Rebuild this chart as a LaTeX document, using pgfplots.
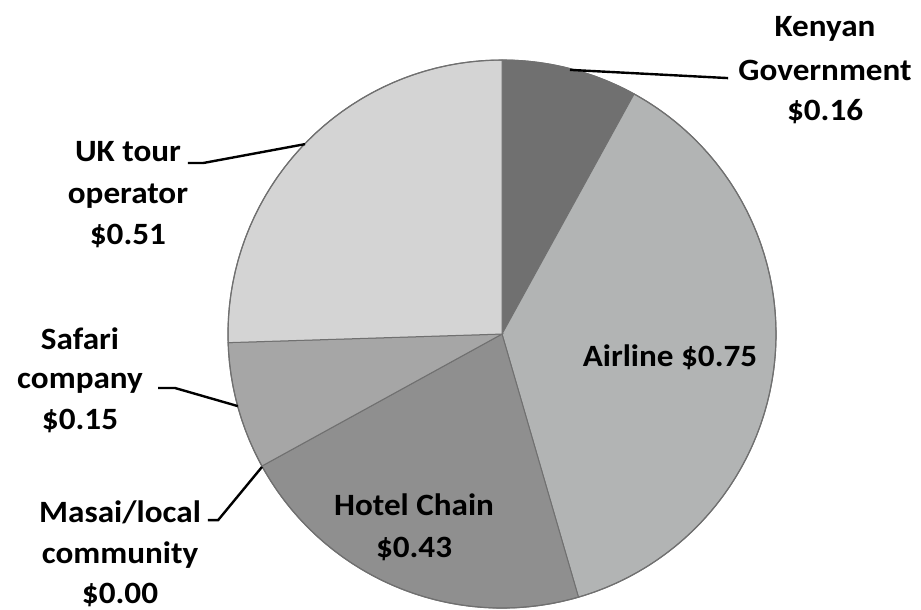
\documentclass[border=0pt]{standalone}
\usepackage{pgfplots}
\pgfplotsset{compat=1.18}
\usepackage{fontspec}
\setmainfont{Carlito}
\newfontfamily\lblfont{Carlito Bold}[FakeStretch=1.07]
\definecolor{cKen}{HTML}{707070}
\definecolor{cAir}{HTML}{B2B4B4}
\definecolor{cHot}{HTML}{8F8F8F}
\definecolor{cSaf}{HTML}{A6A6A6}
\definecolor{cUK}{HTML}{D4D4D4}
\definecolor{cEdge}{HTML}{707070}
\tikzset{lbl/.style={font=\lblfont\fontsize{15.5}{18}\selectfont, inner sep=0pt, anchor=base}}
\begin{document}
\begin{tikzpicture}
\begin{axis}[
  width=460.5pt, height=305pt, scale only axis,
  axis lines=box, axis line style={draw=none}, xtick=\empty, ytick=\empty,
  xmin=-1.832, xmax=1.529, ymin=-1.007, ymax=1.219,
  clip=true,
]
\path (rel axis cs:0,0) rectangle (rel axis cs:1,1);
% values: Kenyan 0.16, Airline 0.75, Hotel 0.43, Masai 0.00, Safari 0.15, UK 0.51 (total 2.00), clockwise from 90 deg
\addplot[fill=cKen, draw=cEdge, line width=0.5pt, domain=61.2:90, samples=30, variable=\t] ({cos(t)},{sin(t)}) -- (axis cs:0,0) -- cycle;
\addplot[fill=cAir, draw=cEdge, line width=0.5pt, domain=-73.8:61.2, samples=90, variable=\t] ({cos(t)},{sin(t)}) -- (axis cs:0,0) -- cycle;
\addplot[fill=cHot, draw=cEdge, line width=0.5pt, domain=-151.2:-73.8, samples=60, variable=\t] ({cos(t)},{sin(t)}) -- (axis cs:0,0) -- cycle;
\addplot[fill=cSaf, draw=cEdge, line width=0.5pt, domain=-178.2:-151.2, samples=30, variable=\t] ({cos(t)},{sin(t)}) -- (axis cs:0,0) -- cycle;
\addplot[fill=cUK, draw=cEdge, line width=0.5pt, domain=90:181.8, samples=60, variable=\t] ({cos(t)},{sin(t)}) -- (axis cs:0,0) -- cycle;
\addplot[draw=cEdge, line width=0.6pt, domain=0:360, samples=150, variable=\t] ({cos(t)},{sin(t)});
% leader lines
\addplot[black, line width=1.2pt] coordinates {(0.248,0.964) (0.825,0.934)};
\addplot[black, line width=1.2pt] coordinates {(-0.719,0.693) (-1.091,0.624) (-1.146,0.624)};
\addplot[black, line width=1.2pt] coordinates {(-0.964,-0.263) (-1.193,-0.197) (-1.255,-0.197)};
\addplot[black, line width=1.2pt] coordinates {(-0.876,-0.485) (-1.036,-0.679) (-1.073,-0.679)};
% labels
\node[lbl] at (axis cs:1.179,1.084) {Kenyan};
\node[lbl] at (axis cs:1.179,0.927) {Government};
\node[lbl] at (axis cs:1.179,0.781) {\$0.16};
\node[lbl] at (axis cs:0.613,-0.120) {Airline \$0.75};
\node[lbl] at (axis cs:-0.321,-0.661) {Hotel Chain};
\node[lbl] at (axis cs:-0.321,-0.814) {\$0.43};
\node[lbl] at (axis cs:-1.394,-0.686) {Masai/local};
\node[lbl] at (axis cs:-1.394,-0.836) {community};
\node[lbl] at (axis cs:-1.394,-0.982) {\$0.00};
\node[lbl] at (axis cs:-1.540,-0.058) {Safari};
\node[lbl] at (axis cs:-1.540,-0.197) {company};
\node[lbl] at (axis cs:-1.540,-0.350) {\$0.15};
\node[lbl] at (axis cs:-1.365,0.628) {UK tour};
\node[lbl] at (axis cs:-1.365,0.478) {operator};
\node[lbl] at (axis cs:-1.365,0.325) {\$0.51};
\end{axis}
\end{tikzpicture}
\end{document}
